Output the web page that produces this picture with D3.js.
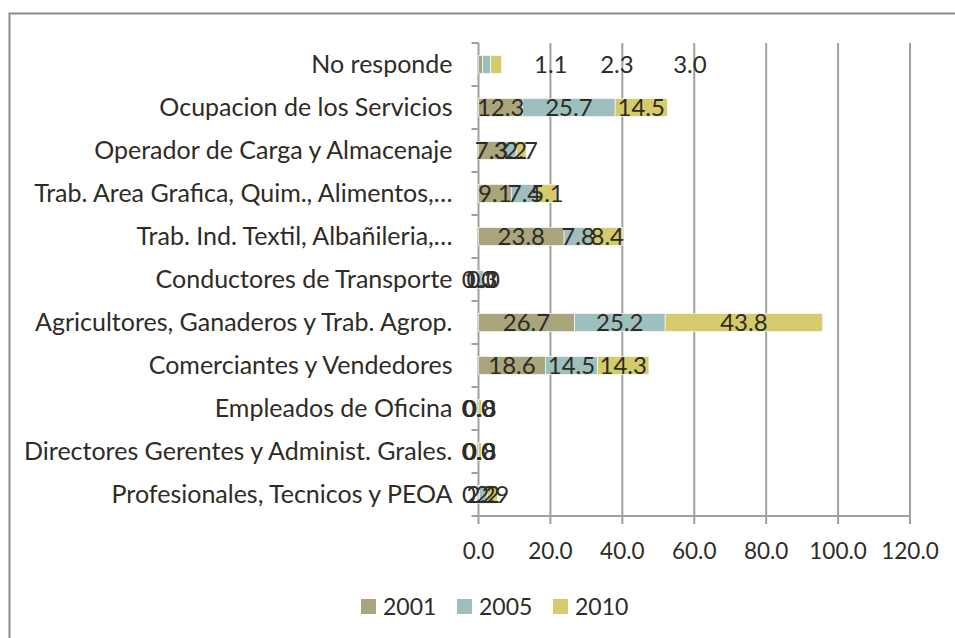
<!DOCTYPE html>
<html lang="es">
<head>
<meta charset="utf-8">
<title>Ocupaciones</title>
<script src="https://cdn.jsdelivr.net/npm/d3@7"></script>
<style>
  body { margin: 0; background: #fff; }
  text { font-family: Lato, "Open Sans", sans-serif; fill: #2f2b25; }
</style>
</head>
<body>
<div id="chart"></div>
<script>
// categories, top to bottom
var categories = [
  "No responde",
  "Ocupacion de los Servicios",
  "Operador de Carga y Almacenaje",
  "Trab. Area Grafica, Quim., Alimentos,…",
  "Trab. Ind. Textil, Albañileria,…",
  "Conductores de Transporte",
  "Agricultores, Ganaderos y Trab. Agrop.",
  "Comerciantes y Vendedores",
  "Empleados de Oficina",
  "Directores Gerentes y Administ. Grales.",
  "Profesionales, Tecnicos y PEOA"
];
var years = ["2001", "2005", "2010"];
var v2001 = [1.1, 12.3, 7.3, 9.1, 23.8, 0.0, 26.7, 18.6, 0.0, 0.0, 0.2];
var v2005 = [2.3, 25.7, 3.2, 7.4, 7.8, 1.3, 25.2, 14.5, 0.0, 0.0, 2.2];
var v2010 = [3.0, 14.5, 2.7, 5.1, 8.4, 0.0, 43.8, 14.3, 0.8, 0.8, 2.9];
var xTicks = [0, 20, 40, 60, 80, 100, 120];
var colors = ["#a9a57c", "#9dbfbe", "#d3cb6c"];

// excel put the "No responde" labels off the bar; centres in axis units
var strayLabelAt = [20.1, 38.5, 58.8];

var width = 955, height = 638;
var margin = {top: 43, left: 478.5, right: 45, bottom: 122};

var rows = categories.map(function(c, i) {
  return {cat: c, "2001": v2001[i], "2005": v2005[i], "2010": v2010[i]};
});
var series = d3.stack().keys(years)(rows);

var x = d3.scaleLinear().domain([0, 120]).range([margin.left, width - margin.right]);
var y = d3.scaleBand().domain(categories).range([margin.top, height - margin.bottom]);
var barH = 18;

var svg = d3.select("#chart").append("svg")
  .attr("width", width).attr("height", height);

// frame
svg.append("path")
  .attr("d", "M9.5," + height + "V13.5H" + width)
  .attr("fill", "none").attr("stroke", "#8c8c8c").attr("stroke-width", 2);

// gridlines
svg.append("g").selectAll("line")
  .data(xTicks.slice(1))
  .enter().append("line")
  .attr("x1", function(d) { return x(d); }).attr("x2", function(d) { return x(d); })
  .attr("y1", margin.top).attr("y2", height - margin.bottom + 8)
  .attr("stroke", "#a0a0a0").attr("stroke-width", 2);

// x axis
svg.append("line")
  .attr("x1", x(0)).attr("x2", x(120))
  .attr("y1", height - margin.bottom).attr("y2", height - margin.bottom)
  .attr("stroke", "#a0a0a0").attr("stroke-width", 2);
svg.append("g").selectAll("text")
  .data(xTicks)
  .enter().append("text")
  .attr("x", function(d) { return x(d); })
  .attr("y", height - margin.bottom + 43)
  .attr("text-anchor", "middle")
  .style("font-size", "22.5px")
  .text(function(d) { return d3.format(".1f")(d); });

// y axis
svg.append("line")
  .attr("x1", x(0)).attr("x2", x(0))
  .attr("y1", margin.top).attr("y2", height - margin.bottom + 8)
  .attr("stroke", "#a0a0a0").attr("stroke-width", 2);
var bounds = categories.map(function(c) { return y(c); }).concat([height - margin.bottom]);
svg.append("g").selectAll("line")
  .data(bounds)
  .enter().append("line")
  .attr("x1", x(0) - 7).attr("x2", x(0))
  .attr("y1", function(d) { return d; }).attr("y2", function(d) { return d; })
  .attr("stroke", "#a0a0a0").attr("stroke-width", 2);
svg.append("g").selectAll("text")
  .data(categories)
  .enter().append("text")
  .attr("x", x(0) - 26)
  .attr("y", function(d) { return y(d) + y.bandwidth() / 2; })
  .attr("dy", "0.35em")
  .attr("text-anchor", "end")
  .style("font-size", "25px")
  .text(function(d) { return d; });

// bars
var layer = svg.append("g").selectAll("g")
  .data(series)
  .enter().append("g")
  .attr("fill", function(d, i) { return colors[i]; });
layer.selectAll("rect")
  .data(function(d) { return d; })
  .enter().append("rect")
  .attr("x", function(d) { return x(d[0]); })
  .attr("width", function(d) { return x(d[1]) - x(d[0]); })
  .attr("y", function(d) { return y(d.data.cat) + (y.bandwidth() - barH) / 2; })
  .attr("height", barH)
  .attr("stroke", "#fff").attr("stroke-width", 0.6);

// data labels
series.forEach(function(s, si) {
  svg.append("g").selectAll("text")
    .data(s)
    .enter().append("text")
    .attr("x", function(d, i) {
      if (i === 0) return x(strayLabelAt[si]);
      return x((d[0] + d[1]) / 2);
    })
    .attr("y", function(d) { return y(d.data.cat) + y.bandwidth() / 2; })
    .attr("dy", "0.35em")
    .attr("text-anchor", "middle")
    .style("font-size", "24px")
    .text(function(d) { return d3.format(".1f")(d[1] - d[0]); });
});

// legend
var legend = svg.append("g").selectAll("g")
  .data(years)
  .enter().append("g")
  .attr("transform", function(d, i) { return "translate(" + (361 + i * 96) + ",599)"; });
legend.append("rect")
  .attr("width", 15).attr("height", 15)
  .attr("fill", function(d, i) { return colors[i]; });
legend.append("text")
  .attr("x", 22).attr("y", 7.5).attr("dy", "0.35em")
  .style("font-size", "23px")
  .text(function(d) { return d; });
</script>
</body>
</html>
